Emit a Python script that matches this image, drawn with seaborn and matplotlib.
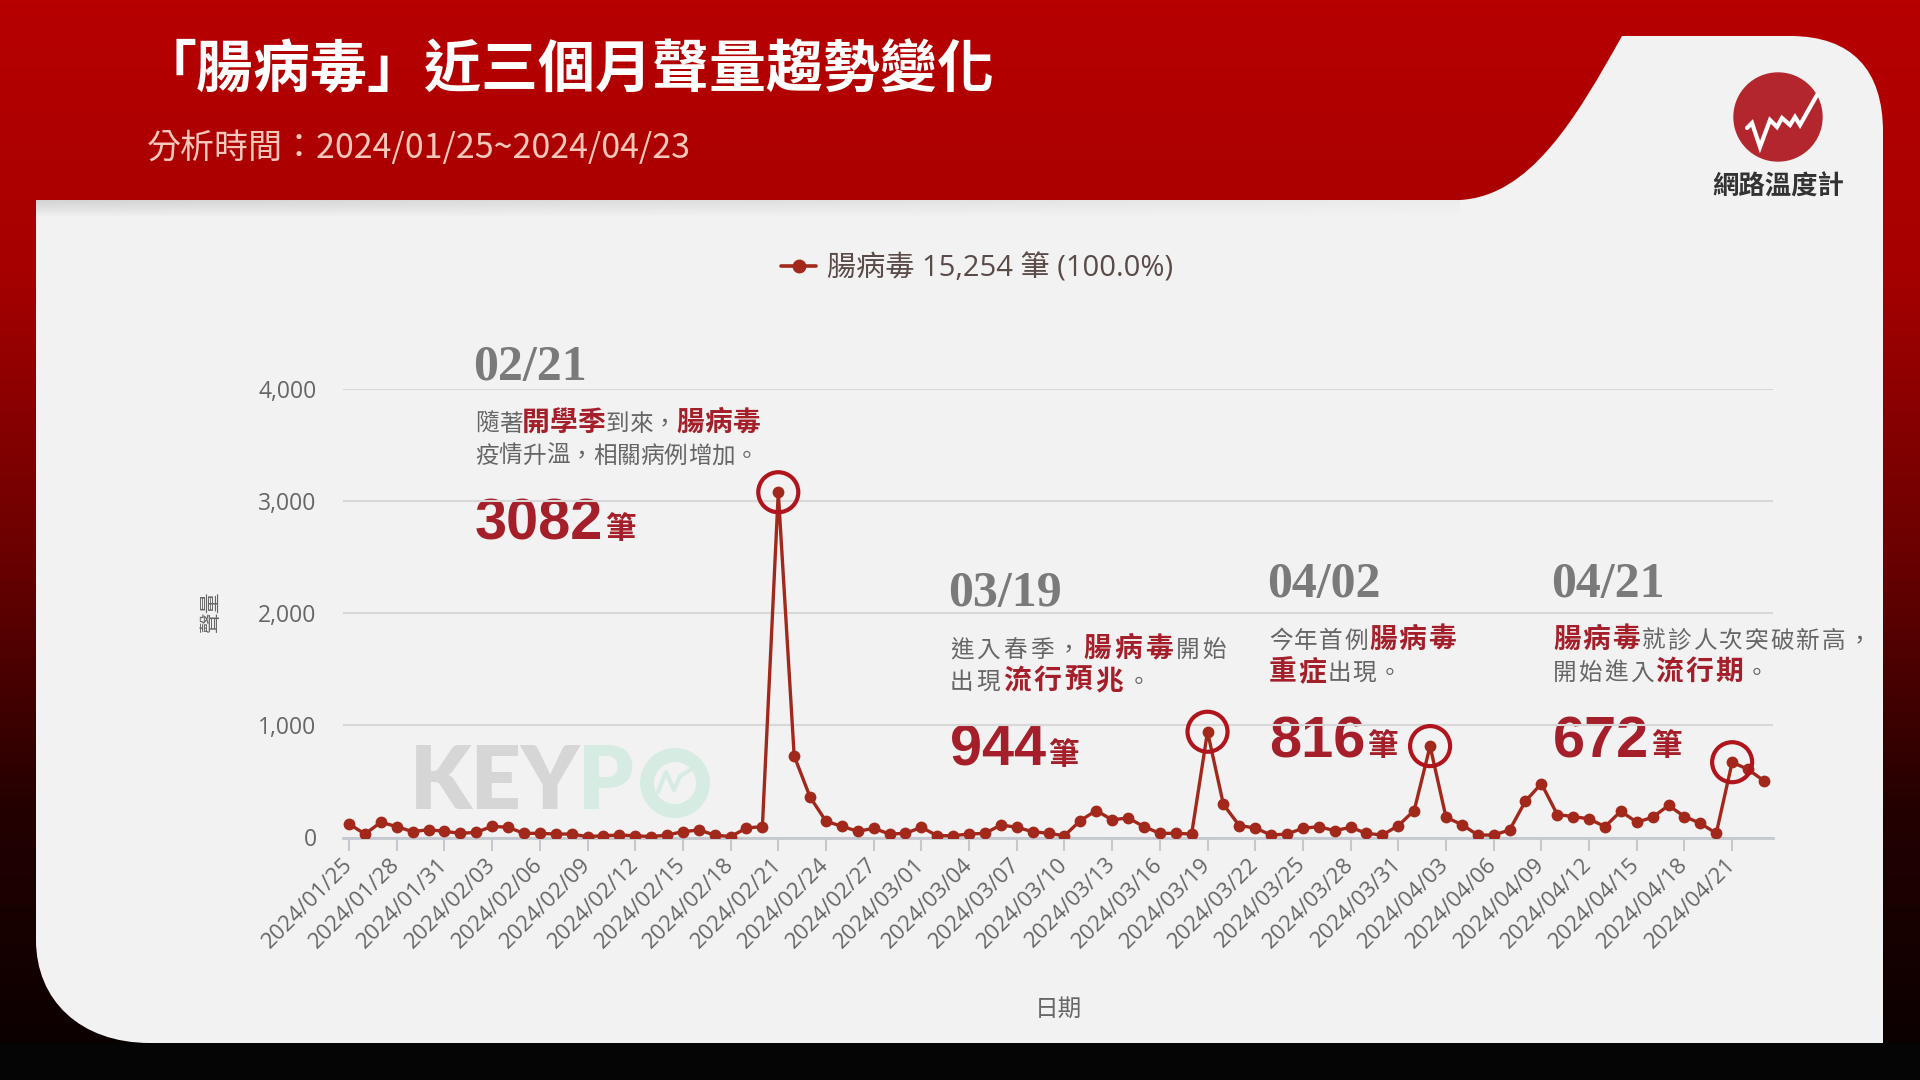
import numpy as np
import pandas as pd
import matplotlib
matplotlib.use('Agg')
import matplotlib.pyplot as plt
import seaborn as sns
from matplotlib.path import Path
from matplotlib.patches import PathPatch, Circle
from matplotlib.lines import Line2D
from matplotlib.colors import LinearSegmentedColormap

# 每日聲量 2024/01/25 ~ 2024/04/23
dates = pd.date_range('2024-01-25', '2024-04-23', freq='D')
volume = [121, 31, 136, 97, 52, 70, 55, 37, 46, 100, 91, 37, 37, 31, 31, 8, 16, 22, 16, 8,
          22, 52, 67, 22, 8, 85, 97, 3082, 728, 361, 145, 100, 55, 82, 31, 37, 91, 16, 16, 31,
          37, 112, 91, 52, 37, 16, 151, 241, 157, 175, 97, 37, 37, 31, 944, 295, 106, 85, 22, 31,
          82, 97, 61, 91, 37, 22, 106, 241, 816, 181, 115, 22, 22, 67, 325, 481, 205, 187, 166, 97,
          235, 136, 181, 286, 187, 127, 37, 672, 608, 506]
date_labels = [d.strftime('%Y/%m/%d') for d in dates]

# 標註
peak_idx = [27, 54, 68, 87]
peak_dates = ['02/21', '03/19', '04/02', '04/21']
peak_values = ['3082', '944', '816', '672']
peak_notes = [
    [[('隨著', False), ('開學季', True), ('到來，', False), ('腸病毒', True)],
     [('疫情升溫，相關病例增加。', False)]],
    [[('進入春季，', False), ('腸病毒', True), ('開始', False)],
     [('出現', False), ('流行預兆', True), ('。', False)]],
    [[('今年首例', False), ('腸病毒', True)],
     [('重症', True), ('出現。', False)]],
    [[('腸病毒', True), ('就診人次突破新高，', False)],
     [('開始進入', False), ('流行期', True), ('。', False)]],
]
note_x = [475, 950, 1269, 1553]
note_y = [368, 594, 585, 585]
note_track = [0, 3, 1.5, 2]

total = 15254
title = '「腸病毒」近三個月聲量趨勢變化'
subtitle = '分析時間：2024/01/25~2024/04/23'

df = pd.DataFrame({'i': np.arange(len(volume)), 'v': volume})

sns.set_theme(style="whitegrid")
plt.rcParams['font.family'] = ['Noto Sans CJK TC', 'DejaVu Sans']

line_color = '#a3281c'
hi_red = '#a51f2a'
gray_txt = '#666666'

fig = plt.figure(figsize=(19.2, 10.8), dpi=100)

# ---- 背景 ----
bg = fig.add_axes([0, 0, 1, 1])
bg.set_xlim(0, 1920)
bg.set_ylim(1080, 0)
bg.axis('off')
cmap = LinearSegmentedColormap.from_list('bgred', ['#b70000', '#a60000', '#6e0000', '#240000', '#080000'])
grad = np.linspace(0, 1, 256).reshape(-1, 1)
bg.imshow(grad, cmap=cmap, extent=[0, 1920, 1080, 0], aspect='auto', zorder=0)
bg.fill_between([0, 1920], 1043, 1080, color='#050505', zorder=1)

verts = [(36, 200), (1460, 200),
         (1530, 196), (1575, 120), (1622, 36),
         (1790, 36),
         (1852, 36), (1883, 70), (1883, 132),
         (1883, 1043), (150, 1043),
         (80, 1043), (36, 1000), (36, 940),
         (36, 200)]
codes = [Path.MOVETO, Path.LINETO,
         Path.CURVE4, Path.CURVE4, Path.CURVE4,
         Path.LINETO,
         Path.CURVE4, Path.CURVE4, Path.CURVE4,
         Path.LINETO, Path.LINETO,
         Path.CURVE4, Path.CURVE4, Path.CURVE4,
         Path.CLOSEPOLY]
card = PathPatch(Path(verts, codes), facecolor='#f2f2f2', edgecolor='none', zorder=2)
bg.add_patch(card)

# 標題下方陰影
shade = np.linspace(0.13, 0, 30).reshape(-1, 1) * np.linspace(1, 0.2, 200).reshape(1, -1)
sh = bg.imshow(np.dstack([np.zeros_like(shade)] * 3 + [shade]), extent=[36, 1460, 218, 200],
               aspect='auto', zorder=3)
sh.set_clip_path(card)

bg.text(140, 70, title, color='white', fontsize=41, fontweight='bold', ha='left', va='center', zorder=5)
bg.text(147, 148, subtitle, color='#f7c8bb', fontsize=24.5, ha='left', va='center', zorder=5)

# logo
bg.add_patch(Circle((1778, 117), 44, color='#b3262d', zorder=5))
zx = [1747, 1752, 1760, 1770, 1777, 1782, 1790, 1795, 1800, 1817]
zy = [128, 123, 147, 120, 127, 118, 125, 117, 125, 95]
bg.plot(zx, zy, color='white', lw=3, solid_joinstyle='miter', zorder=6)
bg.text(1778, 187, '網路溫度計', color='#333333', fontsize=19, fontweight='bold', ha='center', va='center', zorder=5)

# 浮水印 KEYPO
bg.text(410, 784, 'KEY', color='#d6d6d6', fontsize=63, fontweight='heavy', family=['Lato', 'DejaVu Sans'],
        ha='left', va='center', zorder=4)
bg.text(578, 784, 'P', color='#d6ece2', fontsize=63, fontweight='heavy', family=['Lato', 'DejaVu Sans'],
        ha='left', va='center', zorder=4)
bg.add_patch(Circle((675, 783), 28, facecolor='none', edgecolor='#d6ece2', lw=10, zorder=4))
bg.plot([658, 666, 674, 680, 694], [792, 772, 790, 776, 768], color='#d6ece2', lw=3, zorder=4)

# ---- 折線圖 ----
ax = fig.add_axes([343 / 1920, 1 - 837.5 / 1080, 1430 / 1920, 448.1 / 1080])
ax.set_facecolor('none')
sns.lineplot(data=df, x='i', y='v', ax=ax, color=line_color, marker='o', markersize=8.5,
             markeredgewidth=0, linewidth=2.4, zorder=5)
ax.scatter(peak_idx, [volume[i] for i in peak_idx], s=830, facecolors='none',
           edgecolors='#b0141c', linewidths=3, zorder=6)
ax.set_xlim(-0.38, 89.57)
ax.set_ylim(0, 4000)
ax.set_yticks([0, 1000, 2000, 3000, 4000])
ax.set_yticklabels(['0', '1,000', '2,000', '3,000', '4,000'])
ax.set_xticks(range(0, len(date_labels), 3))
ax.set_xticklabels(date_labels[::3], rotation=45, ha='right', va='center', rotation_mode='anchor')
ax.grid(axis='x', visible=False)
ax.grid(axis='y', color='#d8d8d8', lw=1.5)
for s in ['top', 'left', 'right']:
    ax.spines[s].set_visible(False)
ax.spines['bottom'].set_color('#c4c8cf')
ax.spines['bottom'].set_linewidth(2)
ax.tick_params(axis='y', length=0, pad=19, labelsize=16.5, labelcolor=gray_txt)
ax.tick_params(axis='x', length=9, width=1.5, color='#c4c8cf', direction='out', pad=8,
               labelsize=16, labelcolor=gray_txt, bottom=True)
for t in ax.get_xticklabels() + ax.get_yticklabels():
    t.set_family(['Open Sans', 'Noto Sans CJK TC'])
ax.set_xlabel('')
ax.set_ylabel('')

bg.text(211, 612, '聲量', color=gray_txt, fontsize=15, rotation=90, ha='center', va='center', zorder=5)
bg.text(1058, 1009, '日期', color=gray_txt, fontsize=17, ha='center', va='center', zorder=5)

handle = Line2D([], [], color=line_color, marker='o', markersize=9, lw=2.6)
leg = fig.legend([handle], [f'腸病毒 {total:,} 筆 (100.0%)'], loc='center',
                 bbox_to_anchor=(977 / 1920, 1 - 269 / 1080), frameon=False, fontsize=21,
                 handlelength=1.2, handletextpad=0.35, labelcolor='#5a4a48')
for t in leg.get_texts():
    t.set_family(['Open Sans', 'Noto Sans CJK TC'])

# ---- 標註文字 ----
renderer = fig.canvas.get_renderer()


def rich_line(x, y, parts, track):
    for txt, hi in parts:
        for ch in txt:
            t = bg.text(x, y, ch, fontsize=20 if hi else 17, fontweight='bold' if hi else 'normal',
                        color=hi_red if hi else gray_txt, ha='left', va='baseline', zorder=7)
            x += t.get_window_extent(renderer).width + track


for k in range(len(peak_idx)):
    x0, y0 = note_x[k], note_y[k]
    bg.text(x0 - 2, y0, peak_dates[k], color='#7a7a7a', fontsize=36, fontweight='bold',
            family=['Liberation Serif', 'DejaVu Serif'], ha='left', va='center', zorder=7)
    rich_line(x0, y0 + 63, peak_notes[k][0], note_track[k])
    rich_line(x0, y0 + 95, peak_notes[k][1], note_track[k])
    t = bg.text(x0, y0 + 172, peak_values[k], color=hi_red, fontsize=41.5, fontweight='bold',
                family=['Liberation Sans', 'DejaVu Sans'], ha='left', va='baseline', zorder=7)
    w = t.get_window_extent(renderer).width
    bg.text(x0 + w + 2, y0 + 170, '筆', color=hi_red, fontsize=22, fontweight='bold',
            ha='left', va='baseline', zorder=7)

fig.savefig('out.png', dpi=100)
